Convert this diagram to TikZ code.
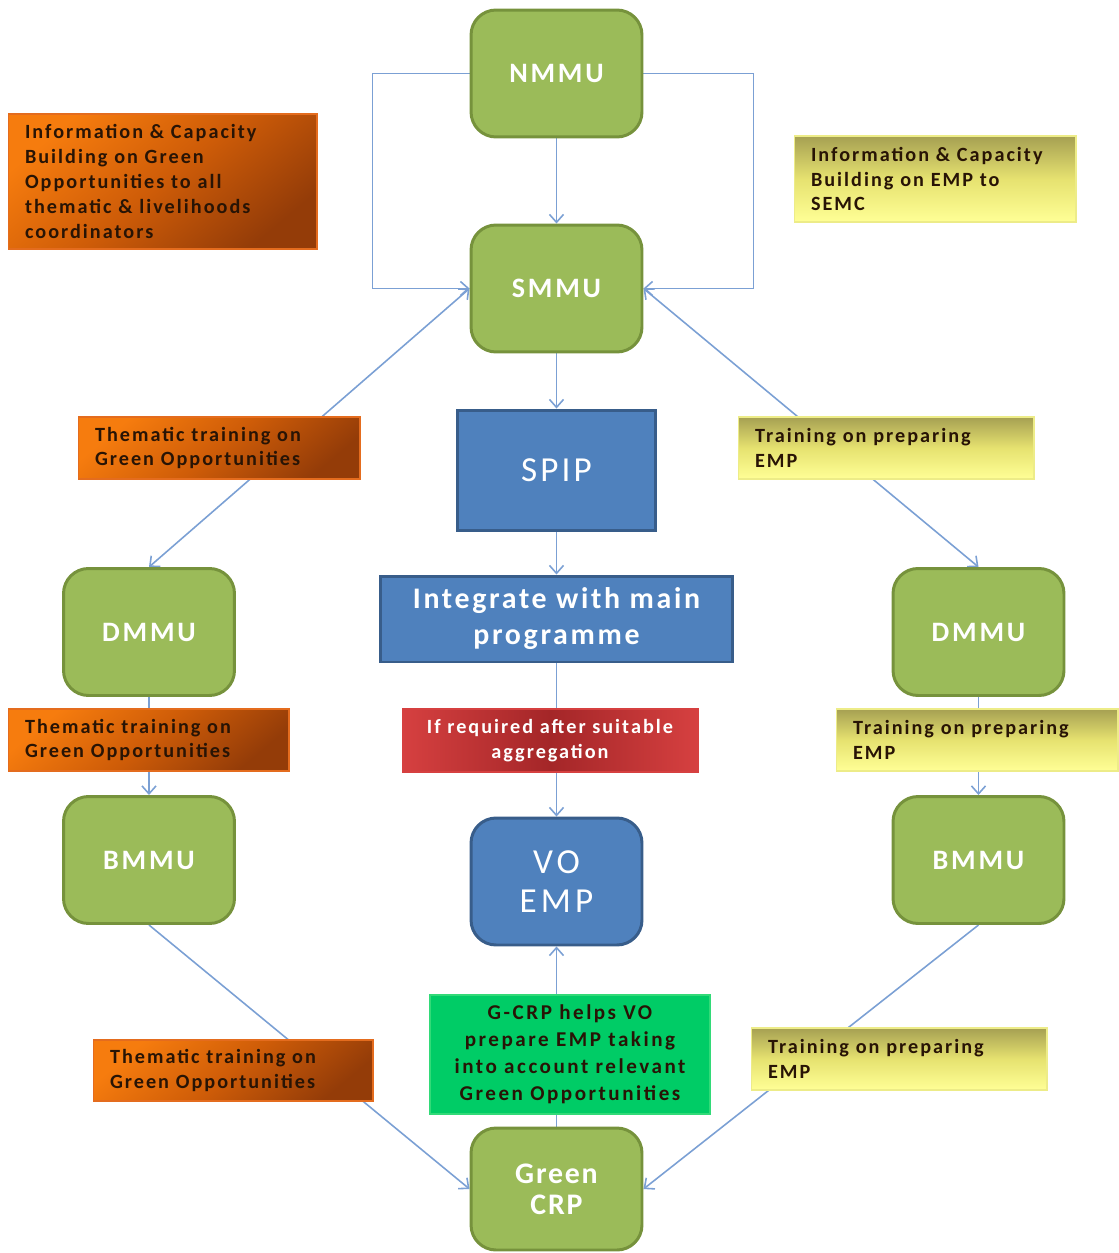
\documentclass[tikz,border=0pt]{standalone}
\usepackage{fontspec}
\setmainfont{Carlito}
\usetikzlibrary{arrows.meta}
\pgfdeclarelayer{links}
\pgfsetlayers{links,main}

\definecolor{unitfill}{RGB}{155,187,89}
\definecolor{unitdraw}{RGB}{118,146,60}
\definecolor{planfill}{RGB}{79,129,189}
\definecolor{plandraw}{RGB}{56,93,138}
\definecolor{linkblue}{RGB}{123,160,212}
\definecolor{orgA}{RGB}{246,124,14}
\definecolor{orgB}{RGB}{206,92,8}
\definecolor{orgC}{RGB}{148,60,8}
\definecolor{orgEdge}{RGB}{228,108,30}
\definecolor{ylwA}{RGB}{166,160,82}
\definecolor{ylwB}{RGB}{230,226,112}
\definecolor{ylwC}{RGB}{255,255,150}
\definecolor{redA}{RGB}{214,64,64}
\definecolor{redB}{RGB}{164,38,40}
\definecolor{gcrpfill}{RGB}{0,204,102}
\definecolor{gcrpdraw}{RGB}{50,218,120}
\definecolor{tagtext}{RGB}{40,20,5}

% spaced-out text settings
\newcommand{\tagfont}{\bfseries\fontsize{11.5}{14.2}\selectfont\addfontfeature{LetterSpace=10}}
\newcommand{\unitfont}{\bfseries\fontsize{16}{20}\selectfont\addfontfeature{LetterSpace=10}}

\tikzset{
  unit/.style={rectangle, rounded corners=0.5cm, fill=unitfill, draw=unitdraw,
    line width=1.7pt, minimum width=3.42cm, minimum height=2.54cm,
    text=white, align=center, font=\unitfont},
  plan/.style={rectangle, fill=planfill, draw=plandraw, line width=1.7pt,
    text=white, align=center},
  tag/.style={rectangle, inner xsep=0.34cm, inner ysep=0pt, align=left,
    text=tagtext, font=\tagfont},
  orangetag/.style={tag, draw=orgEdge, line width=0.6pt,
    top color=orgA, bottom color=orgC, middle color=orgB, shading angle=40},
  yellowtag/.style={tag, draw=ylwC!80!ylwA, line width=0.6pt,
    top color=ylwA, bottom color=ylwC, middle color=ylwB},
  link/.style={draw=linkblue, line width=0.9pt},
  arr/.style={link, -{Straight Barb[length=4.5pt,width=8pt]}},
  darr/.style={link, {Straight Barb[length=4.5pt,width=8pt]}-{Straight Barb[length=4.5pt,width=8pt]}},
}

\begin{document}
\begin{tikzpicture}[x=0.02cm, y=-0.02cm]
\useasboundingbox (0,0) rectangle (1118,1253);

% management units
\node[unit] (nmmu)  at (556.5,73.5) {NMMU};
\node[unit] (smmu)  at (556.5,288.5) {SMMU};
\node[unit] (dmmuL) at (149,632) {DMMU};
\node[unit] (bmmuL) at (149,860) {BMMU};
\node[unit] (dmmuR) at (978.5,632) {DMMU};
\node[unit] (bmmuR) at (978.5,860) {BMMU};
\node[unit, minimum height=2.44cm,
  font=\bfseries\fontsize{17}{17.5}\selectfont\addfontfeature{LetterSpace=6}] (crp) at (556.5,1189) {Green\\CRP};

% planning chain
\node[plan, minimum width=3.98cm, minimum height=2.42cm,
  font=\fontsize{20}{24}\selectfont\addfontfeature{LetterSpace=9}] (spip) at (556.5,470.5) {SPIP};
\node[plan, minimum width=7.06cm, minimum height=1.72cm,
  font=\bfseries\fontsize{17}{20.5}\selectfont\addfontfeature{LetterSpace=9}] (integ) at (556.5,619) {Integrate with main\\programme};
\node[plan, rounded corners=0.5cm, minimum width=3.42cm, minimum height=2.54cm,
  font=\fontsize{20}{22.5}\selectfont\addfontfeature{LetterSpace=12}] (vo) at (556.5,881.5) {VO\\EMP};

\node[rectangle, minimum width=5.92cm, minimum height=1.26cm, draw=redA, line width=0.6pt,
  left color=redA, right color=redA, middle color=redB, text=white, align=center,
  font=\tagfont] (agg) at (550,740.5)
  {If required after suitable\\aggregation};

\node[rectangle, minimum width=5.6cm, minimum height=2.38cm, fill=gcrpfill, draw=gcrpdraw,
  line width=0.8pt, text=tagtext, align=center,
  font=\bfseries\fontsize{12}{15.3}\selectfont\addfontfeature{LetterSpace=12}] (gcrp) at (570,1054.5)
  {G-CRP helps VO\\prepare EMP taking\\into account relevant\\Green Opportunities};

% training labels, left column
\node[orangetag, text width=5.5cm, minimum height=2.7cm] (infoL) at (162.5,181.5)
  {Information \& Capacity\\Building on Green\\Opportunities to all\\thematic \& livelihoods\\coordinators};
\node[orangetag, text width=4.96cm, minimum height=1.24cm] (thA) at (219,448)
  {Thematic training on\\Green Opportunities};
\node[orangetag, text width=4.94cm, minimum height=1.24cm] (thB) at (148.5,740)
  {Thematic training on\\Green Opportunities};
\node[orangetag, text width=4.92cm, minimum height=1.22cm] (thC) at (233,1070.5)
  {Thematic training on\\Green Opportunities};

% training labels, right column
\node[yellowtag, text width=4.96cm, minimum height=1.72cm] (infoR) at (935,179)
  {Information \& Capacity\\Building on EMP to\\SEMC};
\node[yellowtag, text width=5.24cm, minimum height=1.24cm] (trA) at (886,448)
  {Training on preparing\\EMP};
\node[yellowtag, text width=4.96cm, minimum height=1.24cm] (trB) at (977,740)
  {Training on preparing\\EMP};
\node[yellowtag, text width=5.24cm, minimum height=1.24cm] (trC) at (899,1059)
  {Training on preparing\\EMP};

% connectors run beneath the labels
\begin{pgfonlayer}{links}
\draw[arr] (nmmu.west) -- ++(-97,0) |- (smmu.west);
\draw[arr] (nmmu.east) -- ++(110,0) |- (smmu.east);
\draw[arr] (nmmu.south) -- (smmu.north);
\draw[arr] (smmu.south) -- (spip.north);
\draw[arr] (spip.south) -- (integ.north);
\draw[arr] (integ.south) -- (vo.north);
\draw[darr] (dmmuL.north) -- (smmu.west);
\draw[darr] (dmmuR.north) -- (smmu.east);
\draw[arr] (dmmuL.south) -- (bmmuL.north);
\draw[arr] (dmmuR.south) -- (bmmuR.north);
\draw[arr] (bmmuL.south) -- (crp.west);
\draw[arr] (bmmuR.south) -- (crp.east);
\draw[arr] (crp.north) -- (vo.south);
\end{pgfonlayer}
\end{tikzpicture}
\end{document}
